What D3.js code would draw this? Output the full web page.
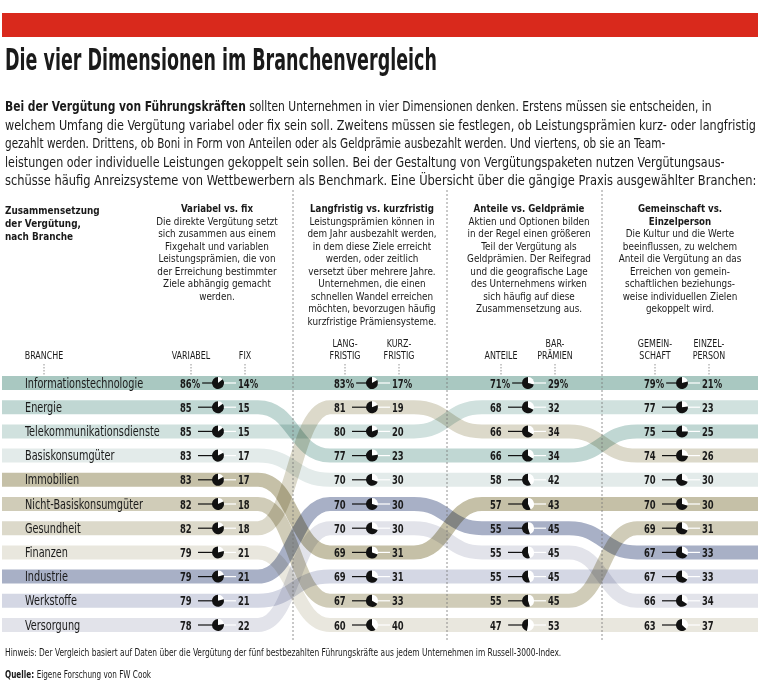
<!DOCTYPE html>
<html>
<head>
<meta charset="utf-8">
<script src="https://cdn.jsdelivr.net/npm/d3@7"></script>
<style>
  body { margin: 0; background: #fff; }
  text { font-family: "DejaVu Sans Condensed", "Liberation Sans Narrow", sans-serif; fill: #1a1a1a; }
  .band { mix-blend-mode: multiply; }
</style>
</head>
<body>
<script>
// Branchen (Reihenfolge in der ersten Spalte)
var branches = ["Informationstechnologie", "Energie", "Telekommunikationsdienste", "Basiskonsumgüter",
  "Immobilien", "Nicht-Basiskonsumgüter", "Gesundheit", "Finanzen", "Industrie", "Werkstoffe", "Versorgung"];
var branchColors = ["#a9c8c1", "#c0d7d3", "#d0e1de", "#e3ebea", "#c5c0a7", "#d0ccb8", "#dcd9ca",
  "#e9e7de", "#a8b0c6", "#d4d7e4", "#e2e3ea"];

// Rangfolge je Spalte (Index in branches, von oben nach unten) und linker Wert in Prozent
var orderVariabel = [0, 1, 2, 3, 4, 5, 6, 7, 8, 9, 10];
var valuesVariabel = [86, 85, 85, 83, 83, 82, 82, 79, 79, 79, 78];
var orderLangfristig = [0, 6, 2, 1, 3, 8, 10, 4, 9, 5, 7];
var valuesLangfristig = [83, 81, 80, 77, 70, 70, 70, 69, 69, 67, 60];
var orderAnteile = [0, 2, 6, 1, 3, 4, 8, 10, 9, 5, 7];
var valuesAnteile = [71, 68, 66, 66, 58, 57, 55, 55, 55, 55, 47];
var orderGemeinschaft = [0, 2, 1, 6, 3, 4, 5, 8, 9, 10, 7];
var valuesGemeinschaft = [79, 77, 75, 74, 70, 70, 69, 67, 67, 66, 63];

var columnTitles = [["Variabel vs. fix"], ["Langfristig vs. kurzfristig"], ["Anteile vs. Geldprämie"], ["Gemeinschaft vs.", "Einzelperson"]];
var columnTexts = [
  ["Die direkte Vergütung setzt", "sich zusammen aus einem", "Fixgehalt und variablen", "Leistungsprämien, die von", "der Erreichung bestimmter", "Ziele abhängig gemacht", "werden."],
  ["Leistungsprämien können in", "dem Jahr ausbezahlt werden,", "in dem diese Ziele erreicht", "werden, oder zeitlich", "versetzt über mehrere Jahre.", "Unternehmen, die einen", "schnellen Wandel erreichen", "möchten, bevorzugen häufig", "kurzfristige Prämiensysteme."],
  ["Aktien und Optionen bilden", "in der Regel einen größeren", "Teil der Vergütung als", "Geldprämien. Der Reifegrad", "und die geografische Lage", "des Unternehmens wirken", "sich häufig auf diese", "Zusammensetzung aus."],
  ["Die Kultur und die Werte", "beeinflussen, zu welchem", "Anteil die Vergütung an das", "Erreichen von gemein-", "schaftlichen beziehungs-", "weise individuellen Zielen", "gekoppelt wird."]
];
var leftLabels = [["VARIABEL"], ["LANG-", "FRISTIG"], ["ANTEILE"], ["GEMEIN-", "SCHAFT"]];
var rightLabels = [["FIX"], ["KURZ-", "FRISTIG"], ["BAR-", "PRÄMIEN"], ["EINZEL-", "PERSON"]];

var intro = [
  [["Bei der Vergütung von Führungskräften", true], [" sollten Unternehmen in vier Dimensionen denken. Erstens müssen sie entscheiden, in", false]],
  [["welchem Umfang die Vergütung variabel oder fix sein soll. Zweitens müssen sie festlegen, ob Leistungsprämien kurz- oder langfristig", false]],
  [["gezahlt werden. Drittens, ob Boni in Form von Anteilen oder als Geldprämie ausbezahlt werden. Und viertens, ob sie an Team-", false]],
  [["leistungen oder individuelle Leistungen gekoppelt sein sollen. Bei der Gestaltung von Vergütungspaketen nutzen Vergütungsaus-", false]],
  [["schüsse häufig Anreizsysteme von Wettbewerbern als Benchmark. Eine Übersicht über die gängige Praxis ausgewählter Branchen:", false]]
];
var introWidths = [707, 752, 661, 720, 752];

var columns = [
  { order: orderVariabel, values: valuesVariabel },
  { order: orderLangfristig, values: valuesLangfristig },
  { order: orderAnteile, values: valuesAnteile },
  { order: orderGemeinschaft, values: valuesGemeinschaft }
];

//Settings
var width = 760;
var height = 681;
var pieX = [218, 372, 528, 682];
var headX = [217, 372, 529, 680];
var separators = [293, 447, 602];
var transitions = [[258, 330], [414, 482], [569, 637]];
var bandHeight = 14;

var svg = d3.select("body").append("svg").attr("width", width).attr("height", height);

//Condensed text: the installed face is scaled horizontally
function narrow(x, y, f, size, bold, anchor, parts) {
  var g = svg.append("g").attr("transform", "translate(" + x + "," + y + ") scale(" + f + ",1)");
  var t = g.append("text").attr("font-size", size).attr("text-anchor", anchor || "start");
  if (typeof parts === "string") {
    t.attr("font-weight", bold ? "bold" : "normal").text(parts);
  } else {
    parts.forEach(function(p) { t.append("tspan").attr("font-weight", p[1] ? "bold" : "normal").text(p[0]); });
  }
  return { g: g, t: t, x: x, y: y, f: f };
}
function fitWidth(o, w) {
  var len = o.t.node().getComputedTextLength();
  o.f = w / len;
  o.g.attr("transform", "translate(" + o.x + "," + o.y + ") scale(" + o.f + ",1)");
  return o;
}

//Header
svg.append("rect").attr("x", 2).attr("y", 13).attr("width", 756).attr("height", 24).attr("fill", "#d9291c");
fitWidth(narrow(5, 70, 1, 31, true, "start", "Die vier Dimensionen im Branchenvergleich"), 432);

//Intro
intro.forEach(function(line, i) {
  fitWidth(narrow(5, 111 + i * 18.5, 1, 14.5, false, "start", line), introWidths[i]);
});

//Column heads
["Zusammensetzung", "der Vergütung,", "nach Branche"].forEach(function(s, i) {
  narrow(5, 214 + i * 13, 0.89, 11.1, true, "start", s);
});
columnTitles.forEach(function(lines, c) {
  var all = lines.map(function(s) { return [s, true]; }).concat(columnTexts[c].map(function(s) { return [s, false]; }));
  all.forEach(function(l, i) {
    narrow(headX[c], 212 + i * 12.5, l[1] ? 0.9 : 0.92, 10.7, l[1], "middle", l[0]);
  });
});

//Scales
var y = d3.scalePoint().domain(d3.range(branches.length)).range([383, 625]);

//Labels above the rows
function labelBlock(lines, x) {
  lines.forEach(function(s, i) {
    narrow(x, 359 - (lines.length - 1 - i) * 12, 0.86, 10.3, false, "middle", s);
  });
}
labelBlock(["BRANCHE"], 44);
var tickX = [44];
columns.forEach(function(col, c) {
  labelBlock(leftLabels[c], pieX[c] - 27);
  labelBlock(rightLabels[c], pieX[c] + 27);
  tickX.push(pieX[c] - 27, pieX[c] + 27);
});
svg.selectAll(".tick").data(tickX).join("line").attr("class", "tick")
  .attr("x1", d => d).attr("x2", d => d).attr("y1", 364).attr("y2", 376)
  .attr("stroke", "#777").attr("stroke-width", 0.8).attr("stroke-dasharray", "1.5,1.5");

//Bands
function bandPath(b) {
  var p = d3.path();
  var ranks = columns.map(function(col) { return col.order.indexOf(b); });
  p.moveTo(2, y(ranks[0]));
  for (var k = 0; k < transitions.length; k++) {
    var x0 = transitions[k][0], x1 = transitions[k][1], m = (x0 + x1) / 2;
    p.lineTo(x0, y(ranks[k]));
    p.bezierCurveTo(m, y(ranks[k]), m, y(ranks[k + 1]), x1, y(ranks[k + 1]));
  }
  p.lineTo(758, y(ranks[ranks.length - 1]));
  return p.toString();
}
svg.append("g").selectAll("path").data(d3.range(branches.length)).join("path")
  .attr("class", "band").attr("d", bandPath).attr("fill", "none")
  .attr("stroke", function(b) { return branchColors[b]; }).attr("stroke-width", bandHeight);

//Separators
svg.selectAll(".sep").data(separators).join("line").attr("class", "sep")
  .attr("x1", d => d).attr("x2", d => d).attr("y1", 190).attr("y2", 640)
  .attr("stroke", "#777").attr("stroke-width", 0.8).attr("stroke-dasharray", "2,2");

//Branch names
orderVariabel.forEach(function(b, i) {
  narrow(25, y(i) + 4.5, 0.8, 13.5, false, "start", branches[b]);
});

//Values and pies
var arc = d3.arc().innerRadius(0).outerRadius(6);
var numSqueeze = 0.72;
columns.forEach(function(col, c) {
  var cx = pieX[c];
  col.values.forEach(function(v, i) {
    var cy = y(i);
    var suffix = i === 0 ? "%" : "";
    var lt = narrow(cx - 38, cy + 4.5, numSqueeze, 13, true, "start", v + suffix);
    var lEnd = cx - 38 + lt.t.node().getComputedTextLength() * numSqueeze;
    svg.append("line").attr("x1", Math.max(lEnd + 2, cx - 20)).attr("x2", cx - 5).attr("y1", cy).attr("y2", cy)
      .attr("stroke", "#111").attr("stroke-width", 1.2);
    svg.append("line").attr("x1", cx + 5).attr("x2", cx + 18).attr("y1", cy).attr("y2", cy)
      .attr("stroke", "#fff").attr("stroke-width", 1.2);
    var g = svg.append("g").attr("transform", "translate(" + cx + "," + cy + ")");
    var rightShare = (100 - v) / 100 * 2 * Math.PI;
    g.append("path").attr("d", arc({ startAngle: 0, endAngle: rightShare })).attr("fill", "#fff");
    g.append("path").attr("d", arc({ startAngle: rightShare, endAngle: 2 * Math.PI })).attr("fill", "#111");
    narrow(cx + 20, cy + 4.5, numSqueeze, 13, true, "start", (100 - v) + suffix);
  });
});

//Footer
fitWidth(narrow(5, 656, 1, 10.5, false, "start",
  "Hinweis: Der Vergleich basiert auf Daten über die Vergütung der fünf bestbezahlten Führungskräfte aus jedem Unternehmen im Russell-3000-Index."), 557);
narrow(5, 678, 0.77, 10.5, false, "start", [["Quelle: ", true], ["Eigene Forschung von FW Cook", false]]);
</script>
</body>
</html>
